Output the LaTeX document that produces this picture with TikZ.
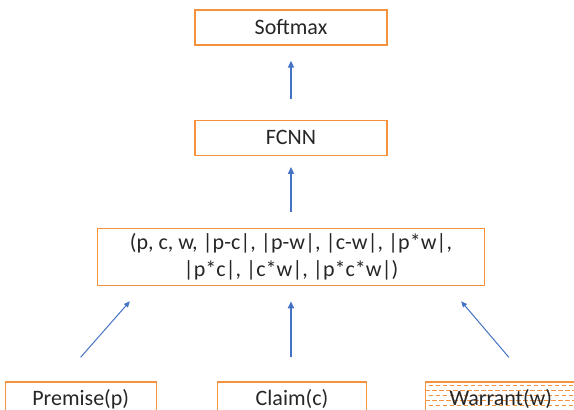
\documentclass[tikz,border=0pt]{standalone}
\usepackage{fontspec}
\setmainfont{Carlito}
\usetikzlibrary{arrows.meta, positioning, backgrounds}
\definecolor{boxorange}{HTML}{F5923E}
\definecolor{arrowblue}{HTML}{4472C4}
\definecolor{textgray}{HTML}{262626}

\begin{document}
\begin{tikzpicture}[x=1pt, y=-1pt,
  block/.style={rectangle, draw=boxorange, line width=1.3pt, minimum width=#1,
    minimum height=35pt, inner sep=0pt, font=\fontsize{22}{27}\selectfont,
    text=textgray, align=center},
  block/.default=192pt,
  up/.style={-{Triangle[length=7pt,width=6pt]}, arrowblue, line width=2pt},
  slant/.style={-{Triangle[length=6pt,width=5pt]}, arrowblue, line width=1pt},
  hatch/.style={boxorange, line width=1.3pt, dash pattern=on 4.5pt off 2.5pt},
]
  \useasboundingbox (0,0) rectangle (574,410);

  \node[block] (softmax) at (291,27.5) {Softmax};
  \node[block, below=74pt of softmax] (fcnn) {FCNN};
  \node[block=387pt, minimum height=57pt, below=72pt of fcnn] (feat)
    {(p, c, w, |p-c|, |p-w|, |c-w|, |p*w|,\\ |p*c|, |c*w|, |p*c*w|)};
  \node[block=149pt, below=95pt of feat, xshift=1pt] (claim) {Claim(c)};
  \node[block=151pt, left=60pt of claim] (premise) {Premise(p)};
  \node[block=150pt, right=58pt of claim] (warrant) {Warrant(w)};

  % dashed fill of the warrant box
  \begin{scope}[on background layer]
    \clip (warrant.south west) rectangle (warrant.north east);
    \foreach \k in {1,...,7}
      \draw[hatch, dash phase={mod(\k,2)*3.5pt}]
        ([yshift=-\k*5pt+1pt]warrant.north west) -- ++(150,0);
  \end{scope}

  \draw[up] ([yshift=21pt]fcnn.north) -- ([yshift=-15pt]softmax.south);
  \draw[up] ([yshift=16pt]feat.north) -- ([yshift=-11pt]fcnn.south);
  \draw[up] ([shift={(-1pt,24pt)}]claim.north) -- ([shift={(0pt,-15pt)}]feat.south);
  \draw[slant] ([yshift=24pt]premise.north) -- ([shift={(33pt,-15pt)}]feat.south west);
  \draw[slant] ([shift={(8pt,24pt)}]warrant.north) -- ([shift={(-24pt,-15pt)}]feat.south east);
\end{tikzpicture}
\end{document}
